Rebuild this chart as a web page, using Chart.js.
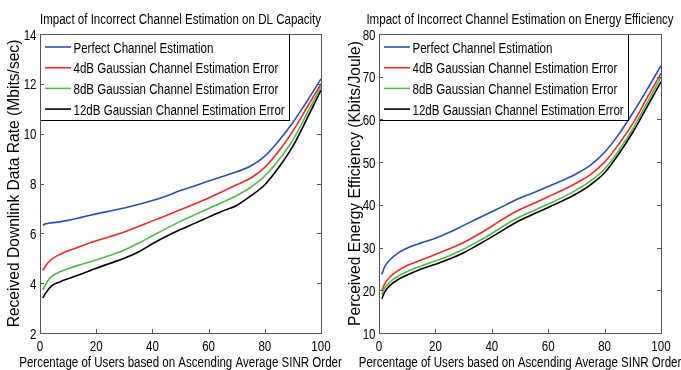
<!DOCTYPE html>
<html><head><meta charset="utf-8">
<script src="https://cdn.jsdelivr.net/npm/chart.js@4/dist/chart.umd.min.js"></script>
<style>
html,body{margin:0;padding:0;background:#fff;width:681px;height:370px;overflow:hidden;}
#c1{position:absolute;left:0;top:0;}
#c2{position:absolute;left:340px;top:0;}
</style></head><body>
<canvas id="c1" width="345" height="370"></canvas>
<canvas id="c2" width="341" height="370"></canvas>
<script>
// ---- data ----
const userPct = [1,2,4,7,10,15,20,25,30,35,40,45,50,55,60,65,70,75,80,85,90,95,100];
const seriesLabels = ["Perfect Channel Estimation","4dB Gaussian Channel Estimation Error","8dB Gaussian Channel Estimation Error","12dB Gaussian Channel Estimation Error"];
const seriesColors = ["#2a4fb0","#ee2a2a","#52b848","#000000"];

const capPerfect = [6.33,6.38,6.42,6.46,6.52,6.65,6.78,6.9,7.02,7.16,7.32,7.5,7.72,7.9,8.1,8.28,8.47,8.7,9.1,9.72,10.45,11.3,12.2];
const cap4dB     = [4.5,4.7,4.95,5.15,5.3,5.5,5.7,5.87,6.05,6.27,6.5,6.72,6.95,7.18,7.42,7.68,7.95,8.22,8.65,9.3,10.1,11.05,12.0];
const cap8dB     = [3.72,3.95,4.25,4.45,4.58,4.76,4.93,5.12,5.33,5.6,5.9,6.2,6.48,6.74,7.0,7.25,7.52,7.85,8.3,8.95,9.75,10.8,11.88];
const cap12dB    = [3.4,3.6,3.88,4.05,4.18,4.38,4.6,4.8,5.0,5.25,5.58,5.88,6.15,6.4,6.65,6.9,7.12,7.5,7.95,8.65,9.5,10.6,11.75];

const eePerfect = [23.7,25.5,27.2,28.8,29.9,31.1,32.2,33.6,35.2,36.8,38.4,40.0,41.6,42.9,44.3,45.7,47.3,49.3,52.3,56.5,61.5,66.9,72.6];
const ee4dB     = [19.8,21.5,23.2,24.7,25.8,27.1,28.4,29.7,31.2,33.0,35.0,37.1,38.9,40.4,41.9,43.4,45.1,47.1,50.0,54.2,59.0,65.0,70.8];
const ee8dB     = [19.0,20.5,22.0,23.4,24.4,25.7,26.9,28.1,29.6,31.4,33.3,35.4,37.2,38.7,40.2,41.7,43.5,45.6,48.4,52.7,57.8,63.8,69.9];
const ee12dB    = [18.0,19.6,21.2,22.6,23.6,25.0,26.1,27.3,28.8,30.6,32.5,34.5,36.4,37.9,39.4,40.9,42.6,44.7,47.5,51.9,57.0,62.9,68.8];

const xTickStep = 20;
const capTicks = {min:2, max:14, step:2};
const eeTicks  = {min:10, max:80, step:10};

const FONT = '"Liberation Sans", Arial, sans-serif';
const SQ = 0.745; // horizontal squeeze of the reference figure
const TXT = '#000';

function sqText(ctx, text, x, y, align, baseline, size){
  ctx.save();
  ctx.translate(x, y);
  ctx.scale(SQ, 1);
  ctx.font = size + 'px ' + FONT;
  ctx.textAlign = align; ctx.textBaseline = baseline;
  ctx.fillText(text, 0, 0);
  ctx.restore();
}

function decorPlugin(t){
  return {
    id:'decor',
    afterDatasetsDraw(chart){
      const ctx = chart.ctx, a = chart.chartArea;
      ctx.save();
      // legend box
      const lx = a.left, ly = a.top, lw = t.legendW, lh = 87;
      ctx.fillStyle = '#fff';
      ctx.fillRect(lx, ly, lw, lh);
      ctx.strokeStyle = '#000'; ctx.lineWidth = 1;
      ctx.strokeRect(lx+0.5, ly+0.5, lw-1, lh-1);
      chart.data.datasets.forEach((ds,i)=>{
        const yy = ly + 13 + i*20.7;
        ctx.strokeStyle = ds.borderColor; ctx.lineWidth = 1.6;
        ctx.beginPath(); ctx.moveTo(lx+5, yy); ctx.lineTo(lx+31, yy); ctx.stroke();
        ctx.fillStyle = TXT;
        sqText(ctx, ds.label, lx+33.5, yy+5.5, 'left', 'alphabetic', 15.5);
      });
      // frame with inward ticks
      ctx.strokeStyle = '#555'; ctx.lineWidth = 1;
      ctx.strokeRect(Math.round(a.left)+0.5, Math.round(a.top)+0.5, Math.round(a.right-a.left), Math.round(a.bottom-a.top));
      const xs = chart.scales.x, ys = chart.scales.y;
      ctx.beginPath();
      xs.ticks.forEach(tk=>{
        const px = Math.round(xs.getPixelForValue(tk.value))+0.5;
        ctx.moveTo(px, a.bottom); ctx.lineTo(px, a.bottom-4);
        if (px > a.left + t.legendW) { ctx.moveTo(px, a.top); ctx.lineTo(px, a.top+4); }
      });
      ys.ticks.forEach(tk=>{
        const py = Math.round(ys.getPixelForValue(tk.value))+0.5;
        ctx.moveTo(a.left, py); ctx.lineTo(a.left+4, py);
        ctx.moveTo(a.right, py); ctx.lineTo(a.right-4, py);
      });
      ctx.stroke();
      // tick labels
      ctx.fillStyle = TXT;
      xs.ticks.forEach(tk=>{
        sqText(ctx, String(tk.value), xs.getPixelForValue(tk.value), a.bottom+17.5, 'center', 'alphabetic', 15.5);
      });
      ys.ticks.forEach(tk=>{
        sqText(ctx, String(tk.value), a.left-3.5, ys.getPixelForValue(tk.value)+5.5, 'right', 'alphabetic', 15.5);
      });
      // titles
      sqText(ctx, t.title, (a.left+a.right)/2, 24, 'center', 'alphabetic', 15.5);
      sqText(ctx, t.xTitle, (a.left+a.right)/2, 367, 'center', 'alphabetic', 15.5);
      ctx.save();
      ctx.translate(t.yTitleX, (a.top+a.bottom)/2);
      ctx.rotate(-Math.PI/2);
      ctx.font = '15.6px ' + FONT;
      ctx.textAlign = 'center'; ctx.textBaseline = 'middle';
      ctx.fillText(t.yTitle, 0, 0);
      ctx.restore();
      ctx.restore();
    }
  };
}

function build(id, series, yt, area, texts){
  const cv = document.getElementById(id);
  const W = cv.width, H = cv.height;
  return new Chart(cv, {
    type:'line',
    data:{
      datasets: series.map((s,i)=>({
        label: seriesLabels[i],
        data: userPct.map((x,k)=>({x:x, y:s[k]})),
        borderColor: seriesColors[i],
        borderWidth: 1.6,
        pointRadius: 0,
        fill:false,
        cubicInterpolationMode:'monotone'
      }))
    },
    options:{
      responsive:false, animation:false,
      layout:{padding:{left:0, top:area.top, right:W-area.right, bottom:0}},
      plugins:{legend:{display:false}, title:{display:false}, tooltip:{enabled:false}},
      scales:{
        x:{type:'linear', min:0, max:100,
           ticks:{stepSize:xTickStep, display:false},
           grid:{display:false, drawTicks:false}, border:{display:false},
           afterFit(s){ s.height = H - area.bottom; }},
        y:{min:yt.min, max:yt.max,
           ticks:{stepSize:yt.step, display:false},
           grid:{display:false, drawTicks:false}, border:{display:false},
           afterFit(s){ s.width = area.left; }}
      }
    },
    plugins:[decorPlugin(texts)]
  });
}

build('c1', [capPerfect, cap4dB, cap8dB, cap12dB], capTicks,
  {left:40, right:321, top:34, bottom:333},
  {title:'Impact of Incorrect Channel Estimation on DL Capacity',
   xTitle:'Percentage of Users based on Ascending Average SINR Order',
   yTitle:'Received Downlink Data Rate (Mbits/sec)', yTitleX:15, legendW:250});

build('c2', [eePerfect, ee4dB, ee8dB, ee12dB], eeTicks,
  {left:39, right:321, top:34, bottom:333},
  {title:'Impact of Incorrect Channel Estimation on Energy Efficiency',
   xTitle:'Percentage of Users based on Ascending Average SINR Order',
   yTitle:'Perceived Energy Efficiency (Kbits/Joule)', yTitleX:16, legendW:250});
</script>
</body></html>
